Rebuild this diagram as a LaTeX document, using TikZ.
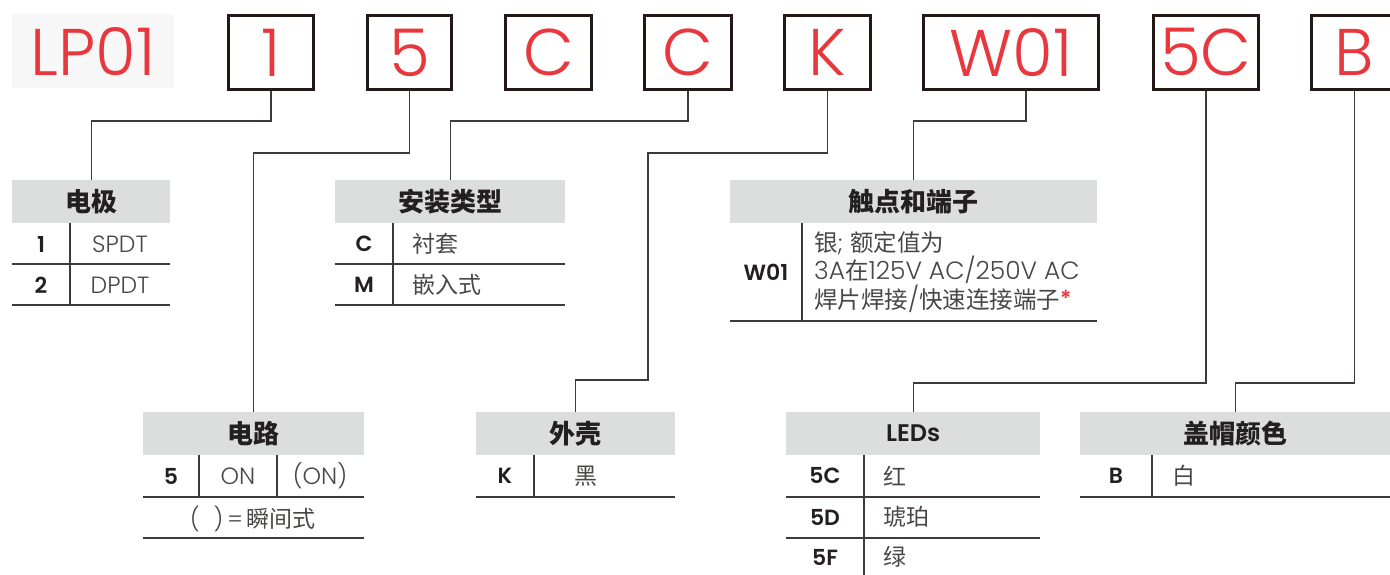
\documentclass[tikz,border=0pt]{standalone}
\usepackage{fontspec}
\usepackage{graphicx}
\newfontfamily\cjk{Noto Sans CJK SC}
\newfontfamily\pop{Poppins}[UprightFont=* Light, BoldFont=* SemiBold]
\definecolor{redc}{HTML}{E8383D}
\definecolor{boxc}{HTML}{231815}
\definecolor{txt}{HTML}{231F20}
\definecolor{soft}{HTML}{4A4646}
\definecolor{hdrc}{HTML}{DCDDDD}
\definecolor{linec}{HTML}{3E3A39}
\definecolor{bgc}{HTML}{F7F7F7}
\begin{document}
\begin{tikzpicture}[x=1pt,y=-1pt,
  codebox/.style={draw=boxc, line width=3pt, minimum height=74pt, inner sep=0pt,
    anchor=north west, text=redc, font=\pop\fontsize{66}{66}\selectfont},
  hdr/.style={fill=hdrc, minimum height=43pt, inner sep=0pt, anchor=north west,
    text=txt, font=\cjk\bfseries\fontsize{26}{26}\selectfont},
  code/.style={inner sep=0pt, text=txt, font=\pop\bfseries\fontsize{22}{22}\selectfont},
  val/.style={inner sep=0pt, text=soft, font=\pop\fontsize{23.5}{23.5}\selectfont},
  cval/.style={inner sep=0pt, text=soft, anchor=west, font=\cjk\fontsize{23}{23}\selectfont},
  rule/.style={draw=linec, line width=1.3pt},
  conn/.style={draw=linec, line width=1.3pt}]
\useasboundingbox (0,0) rectangle (1390,575);

% ---- top code row ----
\node[fill=bgc, minimum width=162pt, minimum height=74pt, inner sep=0pt, anchor=north west,
  text=redc, font=\pop\fontsize{66}{66}\selectfont] (lp) at (12,14) {LP01};
\node[codebox, minimum width=85pt] (b1) at (227,14) {1};
\node[codebox, minimum width=84pt] (b5) at (366,14) {5};
\node[codebox, minimum width=86pt] (bC1) at (504,14) {C};
\node[codebox, minimum width=87pt] (bC2) at (643,14) {C};
\node[codebox, minimum width=86pt] (bK) at (783,14) {K};
\node[codebox, minimum width=175pt] (bW) at (922,14) {W01};
\node[codebox, minimum width=105pt] (b5C) at (1152,14) {5C};
\node[codebox, minimum width=86pt] (bB) at (1310,14) {B};

% ---- headers ----
\node[hdr, minimum width=158pt] (hE) at (12,180) {电极};
\node[hdr, minimum width=230pt] (hM) at (335,180) {安装类型};
\node[hdr, minimum width=367pt] (hC) at (730,180) {触点和端子};
\node[hdr, minimum width=221pt] (hR) at (143,412) {电路};
\node[hdr, minimum width=199pt] (hK) at (476,412) {外壳};
\node[hdr, minimum width=254pt] (hL) at (786,412)
  {{\pop\bfseries\fontsize{24}{24}\selectfont LEDs}};
\node[hdr, minimum width=310pt] (hB) at (1080,412) {盖帽颜色};

% ---- connectors ----
\draw[conn] (b1.south) -- ++(0,30) -| (hE.north);
\draw[conn] (b5.south) -- ++(0,62) -| (hR.north);
\draw[conn] (bC2.south) -- ++(0,30) -| (hM.north);
\coordinate (kb) at (648,380);
\draw[conn] (bK.south) -- ++(0,62) -| (kb) -| (hK.north);
\draw[conn] (bW.south) ++(15,0) -- ++(0,30) -| (hC.north);
\draw[conn] (b5C.south) -- ++(0,292) -| (hL.north);
\draw[conn] (bB.south) -- ++(0,292) -| (hB.north);

% ---- 电极 ----
\node[code] (cE1) at (41,244) {1};
\node[val] (vE1) at (120,244) {SPDT};
\node[code] (cE2) at (41,285) {2};
\node[val] (vE2) at (120,285) {DPDT};
\draw[rule] (12,264) -- (170,264);
\draw[rule] (12,305) -- (170,305);
\draw[rule] (70,223) -- (70,305);

% ---- 安装类型 ----
\node[code] (cM1) at (364,244) {C};
\node[cval] (vM1) at (412,244) {衬套};
\node[code] (cM2) at (364,285) {M};
\node[cval] (vM2) at (412,285) {嵌入式};
\draw[rule] (335,264) -- (565,264);
\draw[rule] (335,305) -- (565,305);
\draw[rule] (393,223) -- (393,305);

% ---- 触点和端子 ----
\node[code] (cW) at (766,272) {W01};
\node[inner sep=0pt, anchor=west, align=left, text=soft,
  font=\cjk\fontsize{23.5}{24.5}\selectfont] (vW) at (814,272)
  {银{\pop;}\hspace{7pt}额定值为\\
   {\pop\fontsize{25}{24.5}\selectfont 3A}在{\pop\fontsize{25}{24.5}\selectfont 125V AC/250V AC}\\
   焊片焊接{\pop\fontsize{25}{24.5}\selectfont /}快速连接端子{\color{redc}\pop\bfseries\fontsize{22}{22}\selectfont\raisebox{2pt}{*}}};
\draw[rule] (730,321) -- (1097,321);
\draw[rule] (802,223) -- (802,321);

% ---- 电路 ----
\node[code] (cR) at (171,476) {5};
\node[val] (vR1) at (238,476) {ON};
\node[val] (vR2) at (320,476) {(ON)};
\draw[rule] (143,497) -- (364,497);
\draw[rule] (199,455) -- (199,497);
\draw[rule] (277,455) -- (277,497);
\node[inner sep=0pt, text=soft, font=\cjk\fontsize{23}{23}\selectfont] (nR) at (253,519)
  {{\pop\fontsize{23}{23}\selectfont (\hspace{14pt})\hspace{4pt}=\hspace{4pt}}瞬间式};
\draw[rule] (143,538) -- (364,538);

% ---- 外壳 ----
\node[code] (cK) at (505,476) {K};
\node[cval] (vK) at (574,476) {黑};
\draw[rule] (476,497) -- (675,497);
\draw[rule] (534,455) -- (534,497);

% ---- LEDs ----
\node[code] (cL1) at (825,476) {5C};
\node[cval] (vL1) at (883,476) {红};
\node[code] (cL2) at (825,517) {5D};
\node[cval] (vL2) at (883,517) {琥珀};
\node[code] (cL3) at (825,557) {5F};
\node[cval] (vL3) at (883,557) {绿};
\draw[rule] (786,497) -- (1040,497);
\draw[rule] (786,538) -- (1040,538);
\draw[rule] (864,455) -- (864,575);

% ---- 盖帽颜色 ----
\node[code] (cB) at (1116,476) {B};
\node[cval] (vB) at (1172,476) {白};
\draw[rule] (1080,497) -- (1390,497);
\draw[rule] (1152,455) -- (1152,497);
\end{tikzpicture}
\end{document}
